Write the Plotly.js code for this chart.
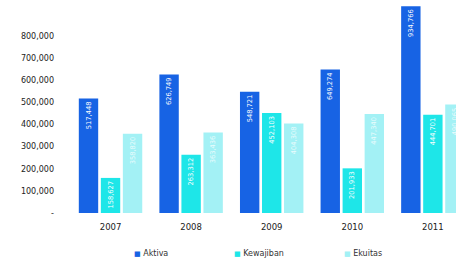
<!DOCTYPE html>
<html>
<head>
<meta charset="utf-8">
<script src="https://cdn.plot.ly/plotly-3.0.1.min.js"></script>
<style>html,body{margin:0;padding:0;background:#fff;}#chart{width:456px;height:260px;}</style>
</head>
<body>
<div id="chart"></div>
<script>
const years = ['2007', '2008', '2009', '2010', '2011'];
const aktiva = [517448, 626749, 548721, 649274, 934766];
const kewajiban = [158627, 263312, 452103, 201933, 444701];
const ekuitas = [358820, 363436, 404308, 447340, 490065];
const seriesNames = ['Aktiva', 'Kewajiban', 'Ekuitas'];
const seriesColors = ['#1763e4', '#1ee6e8', '#a3f1f5'];
const yTickVals = [0, 100000, 200000, 300000, 400000, 500000, 600000, 700000, 800000];
const yTickText = ['-', '100,000', '200,000', '300,000', '400,000', '500,000', '600,000', '700,000', '800,000'];

const fmt = v => v.toLocaleString('en-US');
const seriesData = [aktiva, kewajiban, ekuitas];
const textColors = ['#ffffff', '#ffffff', '#eafcfd'];

const traces = seriesData.map((vals, i) => ({
  type: 'bar',
  name: seriesNames[i],
  x: years,
  y: vals,
  text: vals.map(fmt),
  textposition: 'inside',
  insidetextanchor: 'end',
  textangle: -90,
  constraintext: 'none',
  textfont: {family: 'DejaVu Sans', size: 6.7, color: textColors[i]},
  marker: {color: seriesColors[i]},
  cliponaxis: true,
  showlegend: false,
  hoverinfo: 'none'
}));

const legendX = [132, 232, 342];
const annotations = seriesNames.map((n, i) => ({
  xref: 'paper', yref: 'paper',
  x: (legendX[i] - 60) / 396, y: -0.196,
  xanchor: 'left', yanchor: 'middle',
  showarrow: false,
  text: '<span style="color:' + seriesColors[i] + ';font-size:7px">■</span> ' + n,
  font: {family: 'DejaVu Sans', size: 8, color: '#333'}
}));

const layout = {
  width: 456, height: 260,
  margin: {l: 60, r: 0, t: 4, b: 47, pad: 0},
  paper_bgcolor: '#ffffff', plot_bgcolor: '#ffffff',
  barmode: 'group',
  bargap: 0.18,
  bargroupgap: 0.12,
  showlegend: false,
  xaxis: {
    type: 'category',
    range: [-0.627, 4.287],
    showgrid: false, zeroline: false, showline: false, ticks: '',
    tickfont: {family: 'DejaVu Sans', size: 8.5, color: '#222'},
    ticklabelstandoff: 7
  },
  yaxis: {
    range: [0, 945000],
    tickvals: yTickVals, ticktext: yTickText,
    showgrid: false, zeroline: false, showline: false, ticks: '',
    tickfont: {family: 'DejaVu Sans', size: 8, color: '#222'},
    ticklabelstandoff: 5
  },
  annotations: annotations
};

Plotly.newPlot('chart', traces, layout, {staticPlot: true, displayModeBar: false});
</script>
</body>
</html>
